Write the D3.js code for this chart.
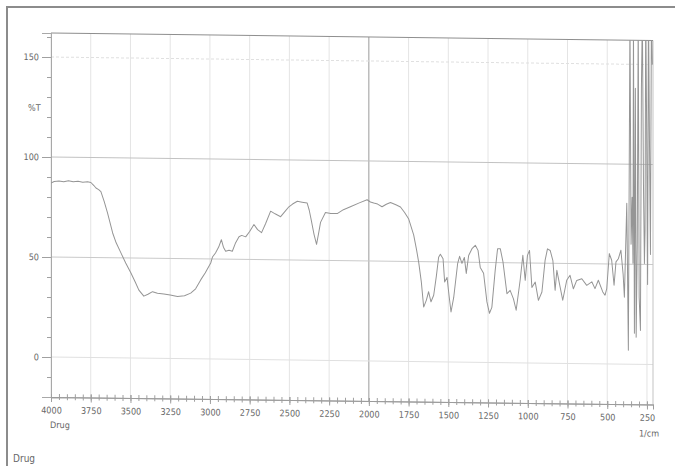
<!DOCTYPE html>
<html>
<head>
<meta charset="utf-8">
<script src="https://cdn.jsdelivr.net/npm/d3@7"></script>
<style>
  body { margin: 0; background: #fff; }
  svg { display: block; }
  .lbl { font-family: "DejaVu Sans Condensed", "DejaVu Sans", sans-serif; font-size: 9px; fill: #666; }
</style>
</head>
<body>
<svg id="chart"></svg>
<script>
// wavenumber (1/cm) and %T
const wavenumbers = [
  4000, 3980, 3950, 3920, 3890, 3860, 3830, 3800, 3770, 3749, 3730, 3717, 3700, 3686, 3665, 3644,
  3612, 3590, 3560, 3530, 3497, 3470, 3447, 3416, 3390, 3361, 3330, 3290, 3250, 3204, 3160, 3121,
  3090, 3058, 3030, 2995, 2984, 2965, 2945, 2928, 2915, 2901, 2880, 2859, 2840, 2817, 2800, 2775,
  2750, 2723, 2700, 2675, 2650, 2618, 2590, 2555, 2530, 2503, 2480, 2450, 2420, 2388, 2375, 2363,
  2345, 2329, 2315, 2304, 2273, 2240, 2199, 2160, 2116, 2060, 2011, 1990, 1969, 1945, 1917, 1890,
  1864, 1830, 1801, 1775, 1749, 1718, 1700, 1686, 1670, 1655, 1638, 1624, 1609, 1592, 1575, 1561,
  1550, 1533, 1523, 1508, 1495, 1483, 1466, 1441, 1429, 1414, 1399, 1387, 1372, 1351, 1330, 1313,
  1299, 1278, 1257, 1241, 1226, 1205, 1190, 1173, 1156, 1131, 1111, 1090, 1073, 1048, 1031, 1016,
  1002, 989, 974, 953, 933, 911, 891, 876, 859, 842, 828, 817, 796, 780, 755, 734,
  713, 692, 660, 629, 597, 577, 556, 528, 514, 503, 487, 472, 457, 445, 430, 414,
  400, 392, 377, 367, 357, 350, 343, 338, 335, 329, 323, 318, 311, 305, 299, 291,
  285, 279, 272, 266, 262, 258, 252, 246, 240, 234, 228, 222, 216
];
const transmittance = [
  87, 87.8, 88, 87.7, 88.2, 87.8, 88, 87.6, 87.8, 87.5, 86, 84.8, 84, 83, 78, 72.3,
  62.4, 57.5, 52.5, 47.5, 42.5, 38, 34, 31, 32, 33.3, 32.5, 32.2, 31.7, 31, 31.5, 32.8,
  35, 39.5, 43, 48, 51, 53, 56, 59.7, 56, 54, 54.5, 54, 58, 61.3, 62, 61.3,
  64, 67.5, 65, 63.5, 68, 74.3, 73, 71.6, 74, 76.6, 78, 79.4, 79, 78.6, 75, 70.3,
  63, 58, 64, 69, 74, 73.5, 73.5, 75.5, 77, 79, 80.6, 79.5, 79, 78.5, 77.2, 78.5,
  79.4, 78.3, 77.2, 74.5, 71.2, 63.3, 56, 49.5, 40, 27.3, 30.8, 35, 30, 33.3, 43, 52.3,
  53.8, 51.6, 40, 42.3, 33, 25, 32.3, 49.4, 52.9, 49.4, 52.4, 44.4, 53.4, 56.8, 58.5, 56,
  47.5, 44.6, 30.3, 24.6, 27.6, 46.1, 56.9, 57, 50.4, 34.5, 36.2, 32, 26.3, 41.3, 53.8, 41.3,
  53.8, 56.3, 37.8, 40.5, 31.4, 35.6, 51.4, 57.2, 56.4, 51.4, 36.5, 46.5, 38, 31.6, 41.6, 44.1,
  37.4, 41.6, 42.5, 39.2, 41, 37.6, 41.8, 36, 34.4, 37.7, 55.2, 51.9, 39.4, 51.1, 52.7, 57,
  45, 33.5, 80.5, 7, 175, 60, 83.5, 50.5, 175, 15.5, 138, 13.5, 60, 175, 33.5, 17,
  138, 175, 90, 50.5, 67, 175, 120, 40, 175, 110, 55, 175, 150
];
const xMajorTicks = [4000, 3750, 3500, 3250, 3000, 2750, 2500, 2250, 2000, 1750, 1500, 1250, 1000, 750, 500, 250];
const yMajorTicks = [0, 50, 100, 150];

const width = 675, height = 466;
const plot = { left: 51, right: 653, top: 33, bottom: 397 };

const svg = d3.select("#chart").attr("width", width).attr("height", height);

// scanned page frame
svg.append("rect")
  .attr("x", 7).attr("y", 7)
  .attr("width", 700).attr("height", 500)
  .attr("fill", "none")
  .attr("stroke", "#8c8c8c")
  .attr("stroke-width", 2);

const x = d3.scaleLinear().domain([4000, 212]).range([plot.left, plot.right]);
const y = d3.scaleLinear().domain([-20, 162]).range([plot.bottom, plot.top]);

// the scan is slightly skewed
const g = svg.append("g")
  .attr("transform", `translate(${plot.left},0) skewY(0.72) translate(${-plot.left},0)`);

// vertical grid
g.append("g").selectAll("line")
  .data(xMajorTicks)
  .join("line")
  .attr("x1", d => x(d)).attr("x2", d => x(d))
  .attr("y1", plot.top).attr("y2", plot.bottom)
  .attr("stroke", d => d === 2000 ? "#9a9a9a" : "#e4e4e4")
  .attr("stroke-width", 1);

// horizontal grid
g.append("g").selectAll("line")
  .data(yMajorTicks)
  .join("line")
  .attr("x1", plot.left).attr("x2", plot.right)
  .attr("y1", d => y(d)).attr("y2", d => y(d))
  .attr("stroke", d => d === 100 ? "#c2c2c2" : d === 50 ? "#cacaca" : "#e0e0e0")
  .attr("stroke-dasharray", d => d === 150 ? "3,2" : null)
  .attr("stroke-width", 1);

// plot border
g.append("line")
  .attr("x1", plot.right).attr("x2", plot.right)
  .attr("y1", plot.top).attr("y2", plot.bottom)
  .attr("stroke", "#c4c4c4");
g.append("line")
  .attr("x1", plot.left).attr("x2", plot.right)
  .attr("y1", plot.top).attr("y2", plot.top)
  .attr("stroke", "#8e8e8e");

// y axis: minor ticks every 10, labelled ones every 50
const yMinor = d3.axisLeft(y).tickValues(d3.range(-20, 161, 10)).tickSize(4).tickFormat("");
const yMajor = d3.axisLeft(y).tickValues(yMajorTicks).tickSize(9).tickPadding(3);

const yMinorG = g.append("g").attr("transform", `translate(${plot.left},0)`).call(yMinor);
const yMajorG = g.append("g").attr("transform", `translate(${plot.left},0)`).call(yMajor);
[yMinorG, yMajorG].forEach(a => {
  a.select(".domain").attr("stroke", "#a8a8a8");
  a.selectAll(".tick line").attr("stroke", "#a0a0a0");
});
yMajorG.selectAll(".tick text").attr("class", "lbl");

// x axis: minor ticks every 50 across the line, labels every 250
const xMinor = d3.axisBottom(x).tickValues(d3.range(4000, 211, -50)).tickSize(3).tickFormat("");
const xMajor = d3.axisBottom(x).tickValues(xMajorTicks).tickSize(5).tickPadding(5).tickFormat(d3.format("d"));

const xMinorG = g.append("g").attr("transform", `translate(0,${plot.bottom})`).call(xMinor);
const xMajorG = g.append("g").attr("transform", `translate(0,${plot.bottom})`).call(xMajor);
xMinorG.selectAll(".tick line").attr("y1", -3);
xMajorG.selectAll(".tick line").attr("y1", -3);
[xMinorG, xMajorG].forEach(a => {
  a.select(".domain").attr("stroke", "#9c9c9c");
  a.selectAll(".tick line").attr("stroke", "#a0a0a0");
});
xMajorG.selectAll(".tick text").attr("class", "lbl");

// axis captions
g.append("text").attr("class", "lbl")
  .attr("x", 28).attr("y", 111)
  .text("%T");
g.append("text").attr("class", "lbl")
  .attr("x", x(4000) - 1).attr("y", 428)
  .text("Drug");
g.append("text").attr("class", "lbl")
  .attr("x", x(250) - 8).attr("y", 429)
  .text("1/cm");

// spectrum
g.append("defs").append("clipPath")
  .attr("id", "clip")
  .append("rect")
  .attr("x", plot.left).attr("y", plot.top)
  .attr("width", plot.right - plot.left + 1)
  .attr("height", plot.bottom - plot.top);

const points = wavenumbers.map((w, i) => [w, transmittance[i]]);
const line = d3.line()
  .x(d => x(d[0]))
  .y(d => y(d[1]));

g.append("path")
  .datum(points)
  .attr("clip-path", "url(#clip)")
  .attr("fill", "none")
  .attr("stroke", "#959595")
  .attr("stroke-width", 1)
  .attr("stroke-linejoin", "round")
  .attr("d", line);

// page caption at the bottom edge
svg.append("text").attr("class", "lbl")
  .attr("x", 13).attr("y", 462)
  .style("font-size", "10px")
  .text("Drug");
</script>
</body>
</html>
